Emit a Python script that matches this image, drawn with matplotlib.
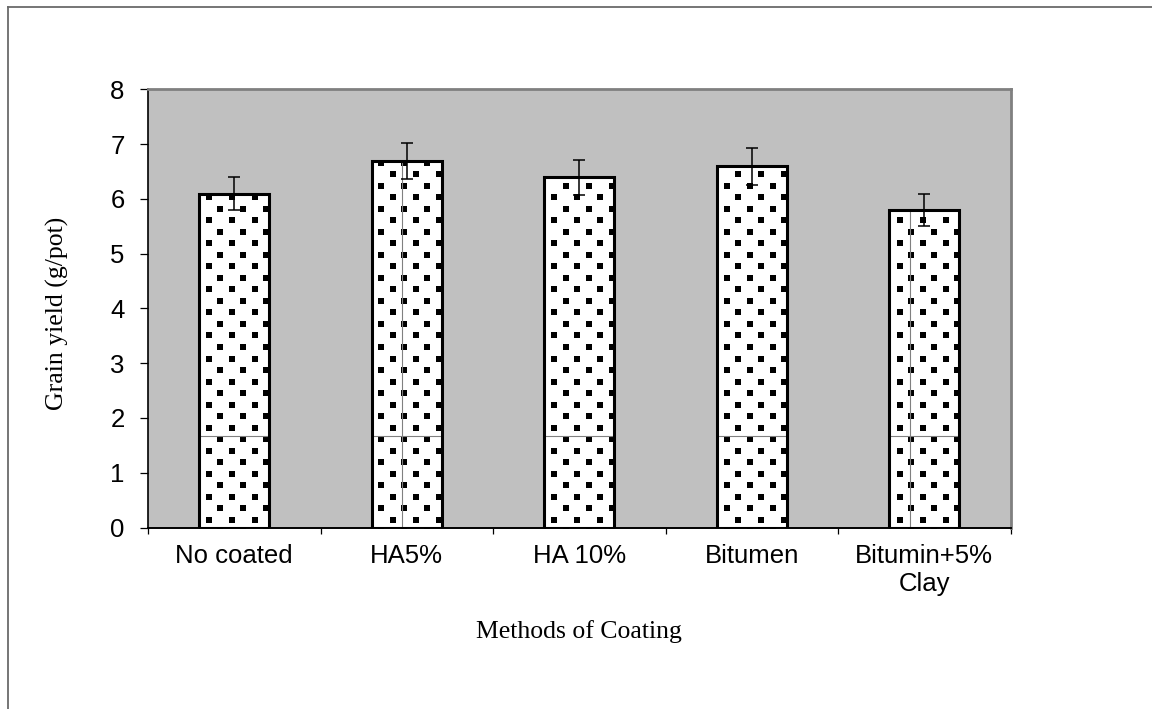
import numpy as np
import matplotlib.pyplot as plt
from matplotlib.lines import Line2D

# values
methods = ["No coated", "HA5%", "HA 10%", "Bitumen", "Bitumin+5%\nClay"]
grain_yield = [6.1, 6.7, 6.4, 6.6, 5.8]
yield_err = [0.30, 0.33, 0.32, 0.34, 0.29]
y_ticks = [0, 1, 2, 3, 4, 5, 6, 7, 8]

W, H = 1152, 709
fig = plt.figure(figsize=(W / 100, H / 100), dpi=100)
ax = fig.add_axes([148 / W, 1 - 527.5 / H, (1010.5 - 148) / W, (527.5 - 89.5) / H])
ax.set_facecolor("#c0c0c0")

x = np.arange(len(methods))
fills = ax.bar(x, grain_yield, width=0.405, color="white", linewidth=0, zorder=2)
ax.bar(x, grain_yield, width=0.405, facecolor="none", edgecolor="black",
       linewidth=2.2, zorder=4)
ax.errorbar(x, grain_yield, yerr=yield_err, fmt="none", ecolor="black",
            elinewidth=1.1, capsize=4.2, capthick=1.1, zorder=5)

# dotted fill: square dots on a fixed pixel grid, clipped to each bar
rows = np.arange(-2, 48)
cols = np.arange(-1, 52)
dx, dy = 23.03, 11.52
px, py = [], []
for r in rows:
    off = 11.5 if r % 2 else 0.0
    for c in cols:
        px.append(1.4 + off + dx * c)
        py.append(519.8 - dy * r)
px = np.array(px) / W
py = 1 - np.array(py) / H

for bar in fills:
    dots = ax.scatter(px, py, s=13, marker="s", c="black", linewidths=0,
                      transform=fig.transFigure, zorder=3)
    dots.set_clip_path(bar)
    # thin seams of the pattern tiles
    seam, = ax.plot([0, 1], [1 - 435.5 / H] * 2, color="#808080", lw=0.8,
                    transform=fig.transFigure, zorder=3)
    seam.set_clip_path(bar)
    for sx in (401.5, 909.5):
        vseam, = ax.plot([sx / W] * 2, [0, 1], color="#808080", lw=0.8,
                         transform=fig.transFigure, zorder=3)
        vseam.set_clip_path(bar)

ax.set_xlim(-0.5, len(methods) - 0.5)
ax.set_ylim(0, 8)

ax.set_yticks(y_ticks)
ax.set_xticks(x)
ax.set_xticklabels(methods, fontfamily="Liberation Sans", fontsize=18.5,
                   linespacing=1.2)
ax.set_xticks(np.arange(-0.5, len(methods), 1), minor=True)
ax.tick_params(axis="x", which="major", length=0, pad=12)
ax.tick_params(axis="x", which="minor", length=4.5, width=0.9, color="black")
ax.tick_params(axis="y", length=5.8, width=0.9, pad=11, labelsize=18.5)
for lab in ax.get_yticklabels():
    lab.set_fontfamily("Liberation Sans")

for side in ("top", "right"):
    ax.spines[side].set_color("#808080")
    ax.spines[side].set_linewidth(2)
ax.spines["left"].set_linewidth(1.2)
ax.spines["bottom"].set_linewidth(1.4)

ax.set_xlabel("Methods of Coating", fontfamily="Liberation Serif", fontsize=18.5)
ax.xaxis.label.set_va("center")
ax.xaxis.set_label_coords(0.5, -(632 - 527.5) / 438)
ax.set_ylabel("Grain yield (g/pot)", fontfamily="Liberation Serif", fontsize=18.5)
ax.yaxis.label.set_va("center")
ax.yaxis.set_label_coords((57 - 148) / 862.5, 0.49)

# outer frame of the chart area (top and left visible)
fig.add_artist(Line2D([7.5 / W, 7.5 / W], [0, 1 - 7 / H], color="#6a6a6a",
                      lw=1.3, transform=fig.transFigure))
fig.add_artist(Line2D([7.5 / W, 1], [1 - 7 / H, 1 - 7 / H], color="#6a6a6a",
                      lw=1.3, transform=fig.transFigure))

fig.savefig("out.png", dpi=100)
